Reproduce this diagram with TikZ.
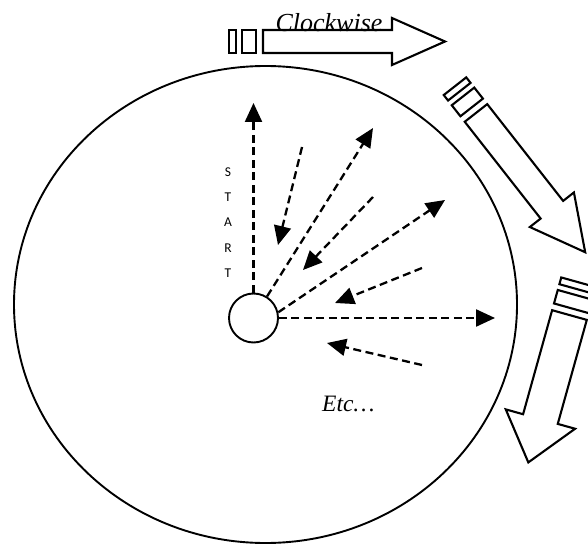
\documentclass[tikz,border=0pt]{standalone}
\usepackage{fontspec}
\setmainfont{Liberation Serif}
\newfontfamily\startfont{Carlito}
\usetikzlibrary{arrows.meta}

% fat outlined arrow: #1 body half-width, #2 head half-width, #3 body length, #4 head length
\newcommand{\myfatarrow}[4]{%
  \draw[fatline] (0,-#1) rectangle (7,#1);
  \draw[fatline] (13,-#1) rectangle (27,#1);
  \draw[fatline] (34,-#1) -- ({34+#3},-#1) -- ({34+#3},-#2) -- ({34+#3+#4},0)
     -- ({34+#3},#2) -- ({34+#3},#1) -- (34,#1) -- cycle;
}

\begin{document}
\begin{tikzpicture}[x=1pt,y=-1pt,
  fatline/.style={line width=2.1pt, line join=miter, fill=white},
  rim/.style={line width=1.9pt},
  darr/.style={line width=2.3pt, dash pattern=on 8pt off 4.5pt,
               -{Triangle[length=19pt,width=17pt]}},
  lbl/.style={inner sep=0pt}]
\clip (0,0) rectangle (588,545);
\useasboundingbox (0,0) rectangle (588,545);

% big wheel
\draw[rim] (265.5,304.5) ellipse [x radius=251.5pt, y radius=238.5pt];

% centre circle
\node[circle, draw, rim, minimum size=49pt, inner sep=0pt] (c) at (253.5,318) {};

% free ends of the dashed arrows
\coordinate (t0) at (253.5,103);
\coordinate (t1) at (373,128);
\coordinate (s2) at (302,147); \coordinate (t2) at (278,245);
\coordinate (s3) at (373,197); \coordinate (t3) at (303,270);
\coordinate (t4) at (445,200);
\coordinate (s5) at (422,268); \coordinate (t5) at (335,303);
\coordinate (t6) at (495,318);
\coordinate (s7) at (422,365); \coordinate (t7) at (327,343);

\draw[darr] (c.north) -- (t0);
\draw[darr] (c) -- (t1);
\draw[darr] (s2) -- (t2);
\draw[darr] (s3) -- (t3);
\draw[darr] (c.13) -- (t4);
\draw[darr] (s5) -- (t5);
\draw[darr] (c.east) -- (t6);
\draw[darr] (s7) -- (t7);

% fat arrows
\begin{scope}[shift={(229,41.5)}]
  \myfatarrow{11.5}{23.5}{129}{53}
\end{scope}
\begin{scope}[shift={(455,86.2)}, rotate=-51.9]
  \myfatarrow{14.3}{28}{123}{54}
\end{scope}
\begin{scope}[shift={(578.6,282.3)}, rotate=-105.6]
  \myfatarrow{18}{36}{108}{45}
\end{scope}

% texts
\node[lbl, font=\startfont\fontsize{13.5}{25.3}\selectfont, align=center] (start) at (228,222.5) {S\\T\\A\\R\\T};
\node[lbl, font=\itshape\fontsize{26}{30}\selectfont, anchor=base] (cw) at (329,32) {Clockwise};
\node[lbl, font=\itshape\fontsize{23.5}{27}\selectfont, anchor=base west] (etc) at (322,411) {Etc…};
\end{tikzpicture}
\end{document}
